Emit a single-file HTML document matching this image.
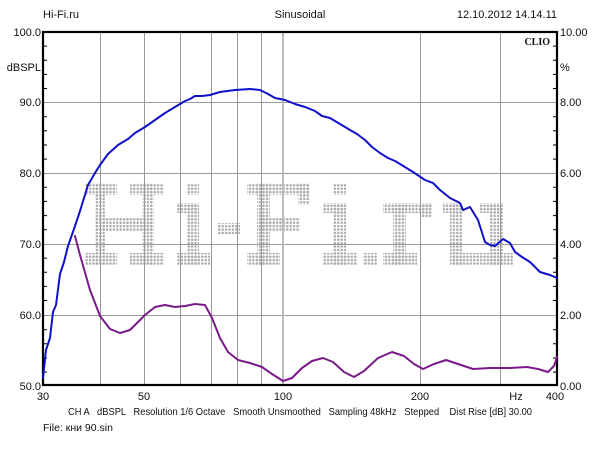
<!DOCTYPE html>
<html><head><meta charset="utf-8"><style>
body{margin:0;background:#fff;width:600px;height:450px;overflow:hidden}
svg{display:block}
text{font-family:"Liberation Sans",sans-serif;font-size:11px;fill:#111}
</style></head><body>
<svg width="600" height="450" viewBox="0 0 600 450">
<defs>
<pattern id="d" patternUnits="userSpaceOnUse" width="3.4" height="3.4" x="0" y="0">
<circle cx="1.7" cy="1.7" r="1.25" fill="#aaa"/></pattern>
</defs>
<g fill="url(#d)">
<rect x="85" y="183" width="32" height="12"/><rect x="130" y="183" width="34" height="12"/>
<rect x="95" y="183" width="10" height="82"/><rect x="142" y="183" width="12" height="82"/>
<rect x="95" y="218" width="59" height="13"/>
<rect x="85" y="253" width="32" height="12"/><rect x="130" y="253" width="34" height="12"/>
<rect x="187" y="183" width="12" height="12"/><rect x="177" y="203" width="22" height="10"/>
<rect x="187" y="203" width="12" height="62"/><rect x="177" y="253" width="33" height="12"/>
<rect x="217" y="223" width="23" height="12"/>
<rect x="247" y="183" width="63" height="12"/><rect x="257" y="183" width="13" height="82"/>
<rect x="257" y="218" width="43" height="13"/><rect x="298" y="183" width="12" height="22"/>
<rect x="247" y="253" width="33" height="12"/>
<rect x="333" y="183" width="13" height="12"/><rect x="323" y="203" width="23" height="10"/>
<rect x="333" y="203" width="13" height="62"/><rect x="323" y="253" width="34" height="12"/>
<rect x="363" y="253" width="14" height="12"/>
<rect x="383" y="203" width="49" height="10"/><rect x="393" y="203" width="13" height="62"/>
<rect x="420" y="203" width="12" height="14"/><rect x="383" y="253" width="34" height="12"/>
<rect x="443" y="203" width="19" height="10"/><rect x="450" y="203" width="13" height="62"/>
<rect x="480" y="203" width="23" height="10"/><rect x="490" y="203" width="13" height="62"/>
<rect x="453" y="253" width="60" height="12"/>
</g>
<g stroke="#999" stroke-width="1">
<line x1="43" y1="102.5" x2="557" y2="102.5"/><line x1="43" y1="173.5" x2="557" y2="173.5"/>
<line x1="43" y1="244.5" x2="557" y2="244.5"/><line x1="43" y1="315.5" x2="557" y2="315.5"/>
<line x1="100.5" y1="32" x2="100.5" y2="385"/><line x1="144.5" y1="32" x2="144.5" y2="385"/>
<line x1="180.5" y1="32" x2="180.5" y2="385"/><line x1="211.5" y1="32" x2="211.5" y2="385"/>
<line x1="237.5" y1="32" x2="237.5" y2="385"/><line x1="261.5" y1="32" x2="261.5" y2="385"/>
<line x1="283" y1="32" x2="283" y2="385" stroke="#bbb" stroke-width="2"/>
<line x1="420.5" y1="32" x2="420.5" y2="385"/><line x1="500.5" y1="32" x2="500.5" y2="385"/>
</g>
<g stroke="#000" stroke-width="1">
<path d="M43 46.1h4M43 60.2h4M43 74.4h4M43 88.5h4M43 116.7h4M43 130.8h4M43 145h4M43 159.1h4M43 187.3h4M43 201.4h4M43 215.6h4M43 229.7h4M43 258.1h4M43 272.2h4M43 286.4h4M43 300.5h4M43 329.7h4M43 343.8h4M43 358h4M43 372.1h4"/>
<path d="M557 46.1h-4M557 60.2h-4M557 74.4h-4M557 88.5h-4M557 116.7h-4M557 130.8h-4M557 145h-4M557 159.1h-4M557 187.3h-4M557 201.4h-4M557 215.6h-4M557 229.7h-4M557 258.1h-4M557 272.2h-4M557 286.4h-4M557 300.5h-4M557 329.7h-4M557 343.8h-4M557 358h-4M557 372.1h-4"/>
</g>
<rect x="43" y="32" width="514" height="353" fill="none" stroke="#000" stroke-width="2.2"/>
<path fill="none" stroke="#7a1a8a" stroke-width="2" stroke-linejoin="round" stroke-linecap="round" d="M75 236 L80 255 L90 290 L100 316 L110 329 L120 333 L130 330 L145 315 L155 307 L165 305 L175 307 L185 306 L195 304 L205 305 L212 318 L220 338 L228 352 L238 360 L250 363 L262 367 L272 374 L283 381 L292 378 L302 368 L312 361 L323 358 L333 362 L344 372 L354 377 L364 371 L378 358 L392 352 L404 356 L414 364 L423 369 L434 364 L446 360 L458 364 L473 369 L490 368 L510 368 L527 367 L538 369 L548 372 L554 366 L557 357"/>
<path fill="none" stroke="#1010cc" stroke-width="2" stroke-linejoin="round" stroke-linecap="round" d="M43 378 L46 350 L50 338 L53 312 L56 305 L60 274 L64 262 L68 246 L75 226 L80 211 L88 185 L95 173 L100 165 L108 154 L118 145 L128 139 L135 133 L145 127 L155 120 L165 113 L175 107 L185 101 L190 99 L195 96 L202 96 L210 95 L220 92 L235 90 L250 89 L260 90 L268 94 L275 98 L285 100 L295 104 L305 107 L315 111 L322 116 L330 118 L340 124 L350 130 L357 134 L365 140 L372 147 L380 153 L388 158 L395 161 L400 164 L413 172 L425 180 L433 183 L440 190 L450 198 L460 203 L463 210 L470 207 L478 220 L485 242 L490 245 L495 246 L503 239 L510 243 L515 252 L522 257 L530 262 L540 272 L550 275 L557 278"/>
<text x="43" y="18">Hi-Fi.ru</text>
<text x="300" y="18" text-anchor="middle">Sinusoidal</text>
<text x="557" y="18" text-anchor="end">12.10.2012 14.14.11</text>
<text x="550" y="45" text-anchor="end" style="font-family:'Liberation Serif',serif;font-weight:bold;font-size:10px">CLIO</text>
<g text-anchor="end">
<text x="41" y="36">100.0</text><text x="41" y="71">dBSPL</text><text x="41" y="106">90.0</text>
<text x="41" y="177">80.0</text><text x="41" y="248">70.0</text><text x="41" y="319">60.0</text><text x="41" y="390">50.0</text>
</g>
<g>
<text x="560" y="36">10.00</text><text x="560" y="71">%</text><text x="560" y="106">8.00</text>
<text x="560" y="177">6.00</text><text x="560" y="248">4.00</text><text x="560" y="319">2.00</text><text x="560" y="390">0.00</text>
</g>
<g text-anchor="middle">
<text x="43" y="400">30</text><text x="144" y="400">50</text><text x="283" y="400">100</text>
<text x="420" y="400">200</text><text x="516" y="400">Hz</text><text x="555" y="400">400</text>
</g>
<text x="68" y="415" textLength="464" lengthAdjust="spacingAndGlyphs" style="font-size:10.5px" xml:space="preserve">CH A   dBSPL   Resolution 1/6 Octave   Smooth Unsmoothed   Sampling 48kHz   Stepped    Dist Rise [dB] 30.00</text>
<text x="43" y="431" style="font-size:10.5px">File: кни 90.sin</text>
</svg>
</body></html>
